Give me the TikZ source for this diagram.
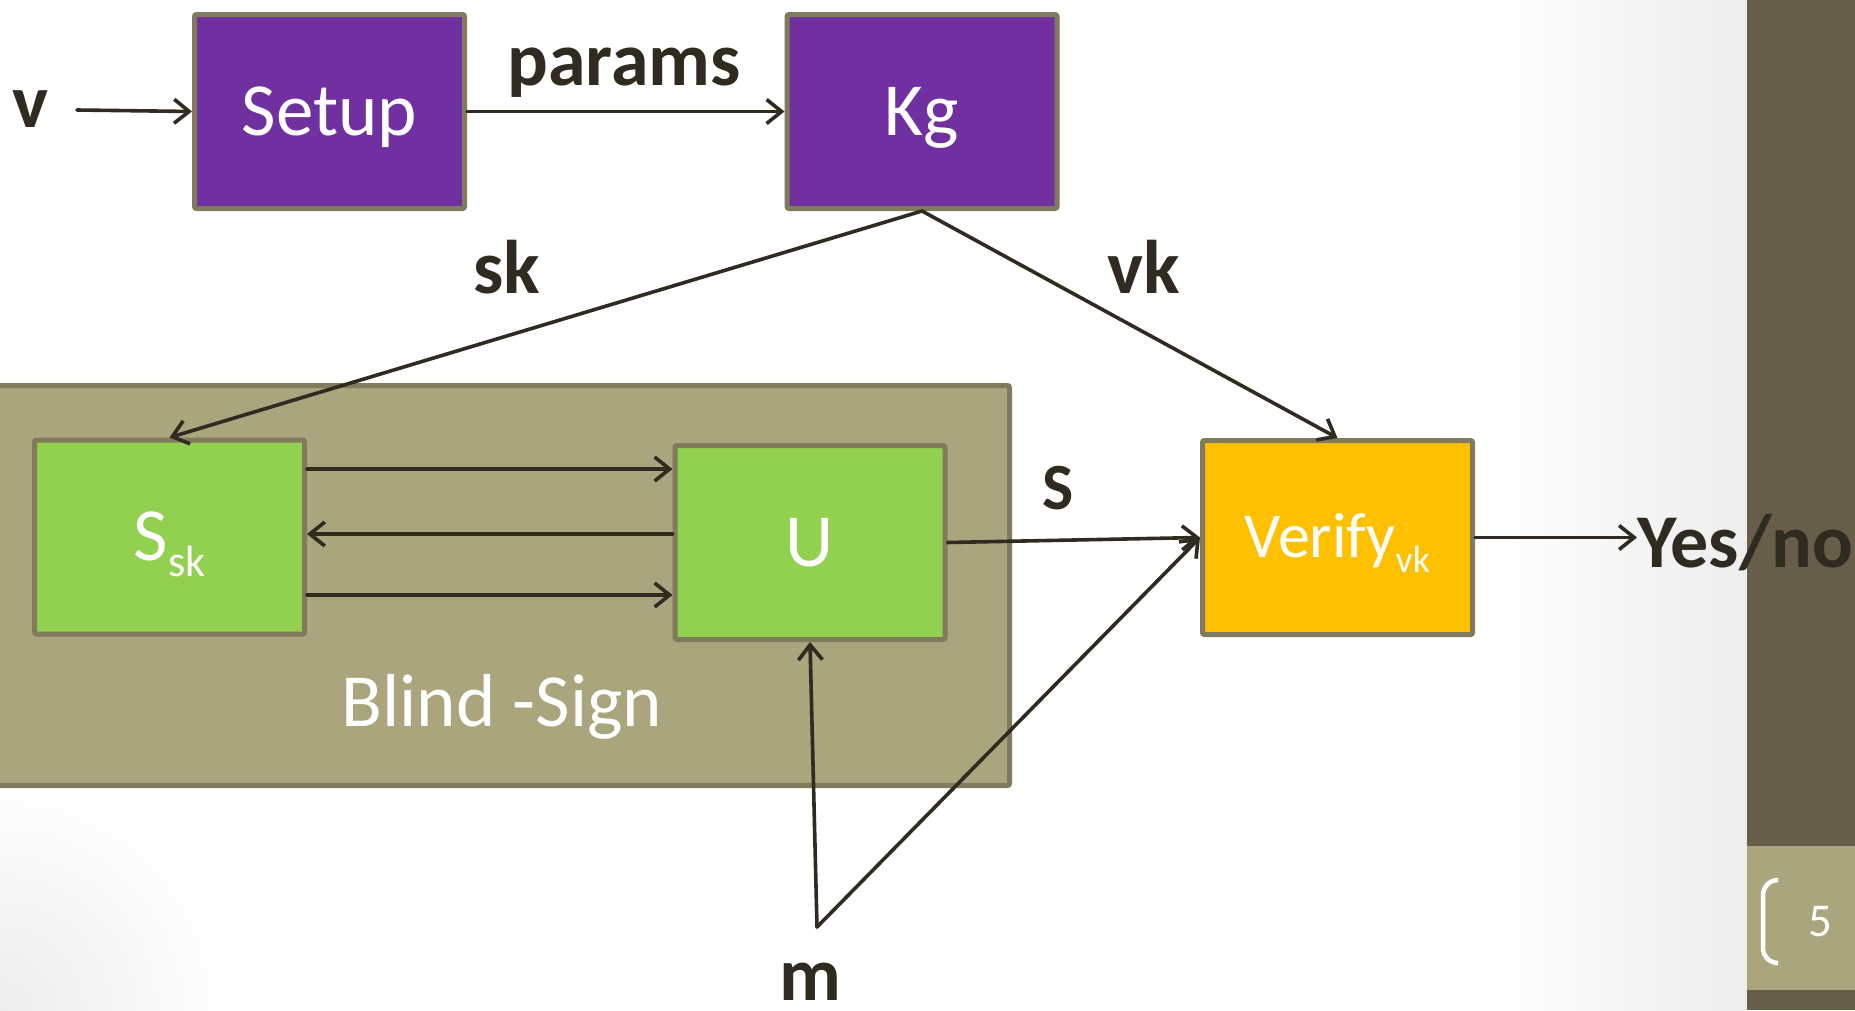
\documentclass[tikz,border=0pt]{standalone}
\usepackage{fontspec}
\setmainfont{Carlito}
\usetikzlibrary{arrows.meta}

\definecolor{boxpurple}{RGB}{112,48,160}
\definecolor{boxgreen}{RGB}{146,208,80}
\definecolor{boxyellow}{RGB}{255,192,0}
\definecolor{boxedge}{RGB}{127,123,92}
\definecolor{olivefill}{RGB}{169,165,124}
\definecolor{sidebar}{RGB}{102,94,72}
\definecolor{ink}{RGB}{47,43,32}

\tikzset{
  block/.style={draw=boxedge, line width=5pt, minimum width=270pt, minimum height=194pt,
    inner sep=0pt, outer sep=2.5pt, text=white, rounded corners=2pt,
    font=\fontsize{75}{90}\selectfont, text height=47pt, text depth=0pt},
  arr/.style={draw=ink, line width=3.6pt, line cap=round, line join=round,
    -{Straight Barb[length=15pt,width=24pt,line width=3.6pt]}},
  lbl/.style={text=ink, inner sep=0pt, anchor=base, font=\bfseries\fontsize{76}{90}\selectfont},
}

\begin{document}
\begin{tikzpicture}[x=1pt,y=-1pt]
  \useasboundingbox (0,0) rectangle (1855,1010);
  \fill[white] (0,0) rectangle (1855,1010);

  % soft page shading
  \shade[left color=white, right color=black!7] (1480,0) rectangle (1747,1010);
  \shade[inner color=black!7, outer color=white] (0,1010) circle (240);

  % side bar with page number
  \fill[sidebar] (1747,0) rectangle (1855,1010);
  \fill[olivefill] (1747,846) rectangle (1855,990);
  \draw[white, line width=4.5pt, line cap=round, rounded corners=15pt]
    (1777,880) -- (1763,880) -- (1763,963) -- (1777,963);
  \node[text=white, inner sep=0pt, font=\fontsize{47}{56}\selectfont] (page) at (1820,922) {5};

  % blind signing protocol area
  \node[draw=boxedge, fill=olivefill, line width=5pt, minimum width=1027pt, minimum height=400pt,
    inner sep=0pt, rounded corners=2pt] (blind) at (496,585.5) {};
  \node[text=white, inner sep=0pt, anchor=base, font=\fontsize{75}{90}\selectfont]
    (blindlbl) at (502,726) {Blind -Sign};

  % algorithm boxes
  \node[block, fill=boxpurple] (setup) at (329.5,111.5) {Setup};
  \node[block, fill=boxpurple] (kg) at (922,111.5) {Kg};
  \node[block, fill=boxgreen] (ssk) at (169.5,537)
    {S\raisebox{-16pt}{\fontsize{44}{50}\selectfont sk}};
  \node[block, fill=boxgreen] (u) at (810,542.5) {U};
  \node[block, fill=boxyellow, font=\fontsize{64}{76}\selectfont, text height=40pt] (verify) at (1337.5,537.5)
    {Verify\raisebox{-15pt}{\fontsize{38}{44}\selectfont vk}};

  % labels
  \node[lbl] (v) at (30,127) {v};
  \node[lbl] (params) at (624,85) {params};
  \node[lbl] (sk) at (507,293) {sk};
  \node[lbl] (vk) at (1144,293) {vk};
  \node[lbl, font=\bfseries\fontsize{66}{80}\selectfont] (s) at (1058,509) {S};
  \node[lbl] (m) at (810,1000) {m};
  \node[lbl, anchor=base west] (yes) at (1637,567) {Yes/no};

  % connector end points
  \coordinate (vstart) at (77,110);
  \coordinate (mtip) at (817,927);
  \coordinate (r1) at (0,469);
  \coordinate (r2) at (0,534);
  \coordinate (r3) at (0,595);

  % connectors
  \draw[arr] (vstart) -- (setup.west);
  \draw[arr] (setup.east) -- (kg.west);
  \draw[arr] (kg.south) -- (ssk.north);
  \draw[arr] (kg.south) -- (verify.north);
  \draw[arr] (ssk.east |- r1) -- (u.west |- r1);
  \draw[arr] (u.west |- r2) -- (ssk.east |- r2);
  \draw[arr] (ssk.east |- r3) -- (u.west |- r3);
  \draw[arr] (u.east) -- (verify.west);
  \draw[arr] (mtip) -- (u.south);
  \draw[arr] (mtip) -- (verify.west);
  \draw[arr] (verify.east) -- (verify.east -| yes.west);
\end{tikzpicture}
\end{document}
